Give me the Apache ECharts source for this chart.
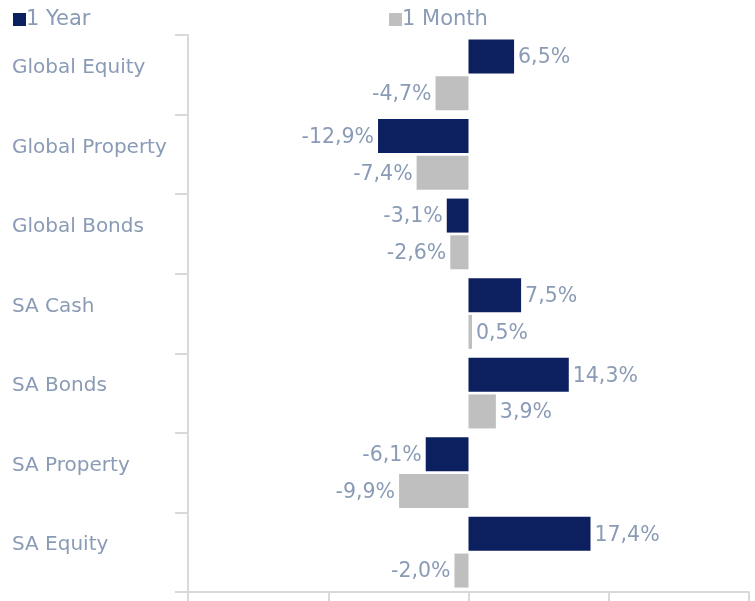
<!DOCTYPE html>
<html>
<head>
<meta charset="utf-8">
<script src="https://cdn.jsdelivr.net/npm/echarts@6/dist/echarts.min.js"></script>
<style>
  html, body { margin: 0; padding: 0; background: #fff; }
  #chart { width: 755px; height: 601px; }
</style>
</head>
<body>
<div id="chart"></div>
<script>
const categories = ['Global Equity', 'Global Property', 'Global Bonds', 'SA Cash', 'SA Bonds', 'SA Property', 'SA Equity'];
const oneYear = [6.5, -12.9, -3.1, 7.5, 14.3, -6.1, 17.4];
const oneMonth = [-4.7, -7.4, -2.6, 0.5, 3.9, -9.9, -2.0];

const textColor = '#8a9bb6';
const axisColor = '#d9d9d9';
const font = 'DejaVu Sans';

// label left or right of the bar depending on sign
function withLabels(values) {
  return values.map(v => ({
    value: v,
    label: { position: v < 0 ? 'left' : 'right' }
  }));
}

const labelStyle = {
  show: true,
  distance: 4,
  offset: [0, 1.5],
  color: textColor,
  fontFamily: font,
  fontSize: 20.5,
  formatter: p => p.value.toFixed(1).replace('.', ',') + '%'
};

const legendText = { color: textColor, fontFamily: font, fontSize: 21, padding: [0, 0, 0, -5] };

const chart = echarts.init(document.getElementById('chart'));
chart.setOption({
  animation: false,
  legend: [
    {
      data: ['1 Year'], left: 8, top: 4, itemWidth: 13, itemHeight: 13,
      icon: 'rect', textStyle: legendText
    },
    {
      data: ['1 Month'], left: 384, top: 4, itemWidth: 13, itemHeight: 13,
      icon: 'rect', textStyle: legendText
    }
  ],
  grid: { left: 188, right: 6, top: 35, bottom: 9, containLabel: false },
  xAxis: {
    type: 'value',
    min: -40, max: 40, interval: 20,
    axisLabel: { show: false },
    splitLine: { show: false },
    axisLine: { show: true, lineStyle: { color: axisColor, width: 2 } },
    axisTick: { show: true, length: 10, lineStyle: { color: axisColor, width: 2 } }
  },
  yAxis: {
    type: 'category',
    data: categories,
    inverse: true,
    axisLine: { show: true, onZero: false, lineStyle: { color: axisColor, width: 2 } },
    axisTick: { show: true, length: 13, lineStyle: { color: axisColor, width: 2 } },
    axisLabel: {
      align: 'left', margin: 176, color: textColor, fontFamily: font, fontSize: 20,
      verticalAlign: 'bottom', lineHeight: 14
    }
  },
  series: [
    {
      name: '1 Year', type: 'bar', data: withLabels(oneYear),
      itemStyle: { color: '#0c1f5e' },
      barWidth: 34, barGap: '8%',
      label: labelStyle
    },
    {
      name: '1 Month', type: 'bar', data: withLabels(oneMonth),
      itemStyle: { color: '#bfbfbf' },
      barWidth: 34, barGap: '8%',
      label: labelStyle
    }
  ]
});
</script>
</body>
</html>
